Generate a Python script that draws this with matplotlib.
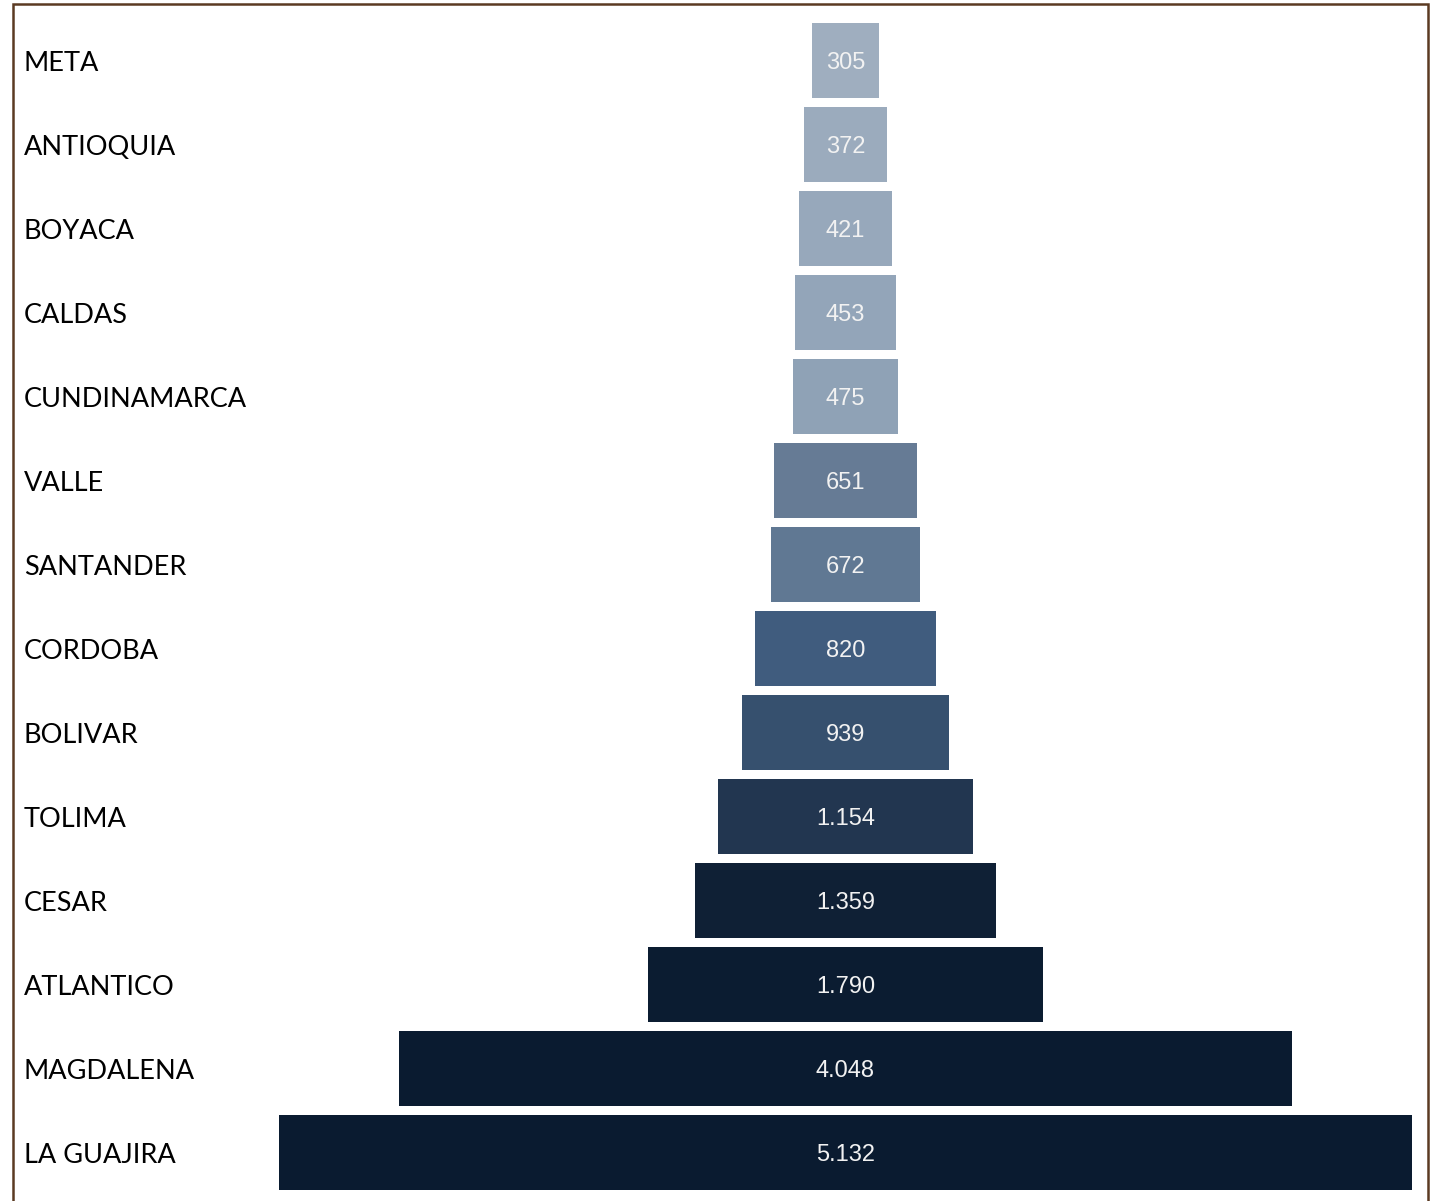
import matplotlib.pyplot as plt
from matplotlib.patches import Rectangle
from matplotlib.transforms import blended_transform_factory, offset_copy

# departments, top to bottom
departments = ['META', 'ANTIOQUIA', 'BOYACA', 'CALDAS', 'CUNDINAMARCA', 'VALLE',
               'SANTANDER', 'CORDOBA', 'BOLIVAR', 'TOLIMA', 'CESAR', 'ATLANTICO',
               'MAGDALENA', 'LA GUAJIRA']
values = [305, 372, 421, 453, 475, 651, 672, 820, 939, 1154, 1359, 1790, 4048, 5132]
bar_colors = ['#9FAEBF', '#9BABBD', '#97A8BB', '#93A5B9', '#8FA2B6', '#667B95',
              '#607893', '#405C7E', '#36506E', '#223650', '#0F2035', '#0B1C31',
              '#0A1B30', '#0A1B30']

fig = plt.figure(figsize=(14.35, 12.01), dpi=100)
fig.patch.set_facecolor('white')

# brown frame around the chart
fig.patches.append(Rectangle((12.5 / 1435, -0.01), 1415.5 / 1435, 1 - 3.5 / 1201 + 0.01,
                             transform=fig.transFigure, fill=False,
                             edgecolor='#5B3A22', linewidth=1.8))

ax = fig.add_axes([279 / 1435, 1 - 1194.5 / 1201, 1133 / 1435, 1176 / 1201])
ax.set_axis_off()

max_v = max(values)
ypos = list(range(len(values)))
lefts = [-v / 2 for v in values]
ax.barh(ypos, values, left=lefts, height=75 / 84, color=bar_colors)
ax.set_xlim(-max_v / 2, max_v / 2)
ax.set_ylim(len(values) - 0.5, -0.5)

# nudge texts down a little to sit like the original
val_trans = offset_copy(ax.transData, fig=fig, x=0, y=-1.5, units='points')
for y, v in zip(ypos, values):
    label = f'{v:,}'.replace(',', '.')
    ax.text(0, y, label, transform=val_trans, ha='center', va='center',
            color='#F2F2F2', fontsize=17, family='Liberation Sans')

lab_trans = offset_copy(blended_transform_factory(fig.transFigure, ax.transData),
                        fig=fig, x=0, y=-2, units='points')
for y, name in zip(ypos, departments):
    ax.text(24 / 1435, y, name, transform=lab_trans, ha='left', va='center',
            fontsize=19.5, family='Lato', color='black')

fig.savefig('out.png', dpi=100)
